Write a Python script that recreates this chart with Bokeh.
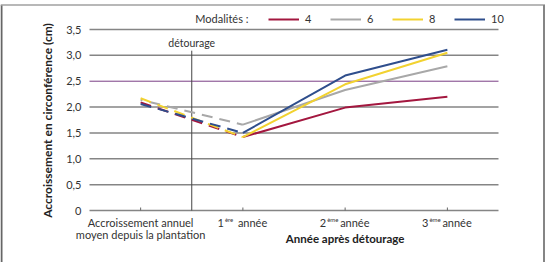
from math import pi
from bokeh.plotting import figure
from bokeh.models import Range1d, Label, Legend, LegendItem
from bokeh.core.properties import value
from bokeh.embed import file_html
from bokeh.resources import INLINE

# ---- data ----
categories = ["Accroissement annuel\nmoyen depuis la plantation", "1ère année", "2ème année", "3ème année"]
tick_num = ["", "1", "2", "3"]
tick_sup = ["", "ère", "ème", "ème"]
tick_word = ["", "année", "année", "année"]
series_names = ["4", "6", "8", "10"]
mod4 = [2.09, 1.42, 1.99, 2.20]
mod6 = [2.14, 1.66, 2.33, 2.79]
mod8 = [2.17, 1.42, 2.44, 3.05]
mod10 = [2.06, 1.50, 2.61, 3.11]
y_ticks = [0, 0.5, 1.0, 1.5, 2.0, 2.5, 3.0, 3.5]
y_tick_labels = ["0", "0,5", "1,0", "1,5", "2,0", "2,5", "3,0", "3,5"]
detourage_at = 0.5
detourage_top = 3.09

colors = ["#a3173f", "#a8a8a8", "#f2d230", "#2f4e8c"]
dash_offsets = [0, 9, 0, 0]
FONT = "Lato"

# ---- layout (pixels of the 548x262 page) ----
W, H = 548, 262
PX_LEFT, PX_CAT = 89, 102.25          # left edge of first category, width of a category
PX_ZERO, PX_UNIT = 210, 181 / 3.5     # y pixel of 0, pixels per unit


def X(px):
    return -0.5 + (px - PX_LEFT) / PX_CAT


def Y(py):
    return (PX_ZERO - py) / PX_UNIT


xs = list(range(len(categories)))
x_lo, x_hi = -0.5, len(categories) - 0.5

p = figure(width=W, height=H, output_backend="svg", toolbar_location=None,
           x_range=Range1d(X(0), X(W)), y_range=Range1d(Y(H), Y(0)),
           x_axis_location=None, y_axis_location=None,
           min_border=0, min_border_left=0, min_border_right=0,
           min_border_top=0, min_border_bottom=0)
p.outline_line_color = None
p.xgrid.visible = False
p.ygrid.visible = False
p.background_fill_color = "white"
p.border_fill_color = "white"

# outer frame box
p.segment(x0=[X(1), X(0), X(543.5)], y0=[Y(4.5), Y(4.5), Y(4.5)],
          x1=[X(1), X(544.5), X(543.5)], y1=[Y(H + 5), Y(4.5), Y(H + 5)],
          line_color=["#666666", "#a0a0a0", "#858585"], line_width=[2, 1.5, 2])

# grid lines
grid_y = [t for t in y_ticks if t not in (0, 2.5)]
p.segment(x0=[x_lo] * len(grid_y), y0=grid_y, x1=[x_hi] * len(grid_y), y1=grid_y,
          line_color="#858585", line_width=1.5)
p.segment(x0=[x_lo], y0=[2.5], x1=[x_hi], y1=[2.5], line_color="#7a3f86", line_width=1)
# x axis line and ticks
p.segment(x0=[x_lo], y0=[0], x1=[x_hi], y1=[0], line_color="#858585", line_width=1.5)
p.segment(x0=xs, y0=[0] * len(xs), x1=xs, y1=[3 / PX_UNIT] * len(xs),
          line_color="#666666", line_width=1)

# y tick labels
p.text(x=[X(81)] * len(y_ticks), y=y_ticks, text=y_tick_labels, text_align="right",
       text_baseline="middle", text_font=value(FONT), text_font_size="11px",
       text_color="#333333")
p.add_layout(Label(x=X(47), y=Y(120), text="Accroissement en circonférence (cm)",
                   angle=pi / 2, text_align="center", text_baseline="middle",
                   text_font=FONT, text_font_style="bold", text_font_size="12px",
                   text_color="#222222"))

# detourage line
p.segment(x0=[detourage_at], y0=[0], x1=[detourage_at], y1=[detourage_top],
          line_color="#444444", line_width=1)
p.add_layout(Label(x=detourage_at, y=Y(42), text="détourage", text_align="center",
                   text_baseline="middle", text_font=FONT, text_font_size="10.5px",
                   text_color="#333333"))

# series
legend_items = []
for name, vals, c, off in zip(series_names, [mod4, mod6, mod8, mod10], colors, dash_offsets):
    p.line(xs[:2], vals[:2], line_color=c, line_width=2, line_dash="11 7", line_dash_offset=off)
    r = p.line(xs[1:], vals[1:], line_color=c, line_width=2)
    legend_items.append(LegendItem(label=name, renderers=[r]))

legend = Legend(items=legend_items, orientation="horizontal", location=(268, H - 25),
                glyph_width=31, glyph_height=12, label_standoff=6, spacing=5,
                label_width=20, padding=0, margin=0, border_line_color=None,
                background_fill_alpha=0, label_text_font=FONT,
                label_text_font_size="11px", label_text_color="#333333")
p.add_layout(legend)
p.add_layout(Label(x=X(248), y=Y(18), text="Modalités :", text_align="right",
                   text_baseline="middle", text_font=FONT, text_font_size="11px",
                   text_color="#333333"))

# category labels
lbl = dict(text_font=FONT, text_font_size="11px", text_color="#333333", text_baseline="middle")
first = categories[0].split("\n")
p.add_layout(Label(x=xs[0], y=Y(222), text=first[0], text_align="center", **lbl))
p.add_layout(Label(x=xs[0], y=Y(234), text=first[1], text_align="center", **lbl))
for i in xs[1:]:
    p.add_layout(Label(x=i, y=Y(222), x_offset=-19, text=tick_num[i], text_align="right", **lbl))
    p.add_layout(Label(x=i, y=Y(219), x_offset=-18, text=tick_sup[i], text_align="left",
                       text_font=FONT, text_font_size="6px", text_color="#333333",
                       text_baseline="middle"))
    p.add_layout(Label(x=i, y=Y(222), x_offset=-5, text=tick_word[i], text_align="left", **lbl))

p.add_layout(Label(x=2, y=Y(238), text="Année après détourage", text_align="center",
                   text_baseline="middle", text_font=FONT, text_font_style="bold",
                   text_font_size="11.5px", text_color="#222222"))

open("out.html", "w").write(file_html(p, INLINE))
